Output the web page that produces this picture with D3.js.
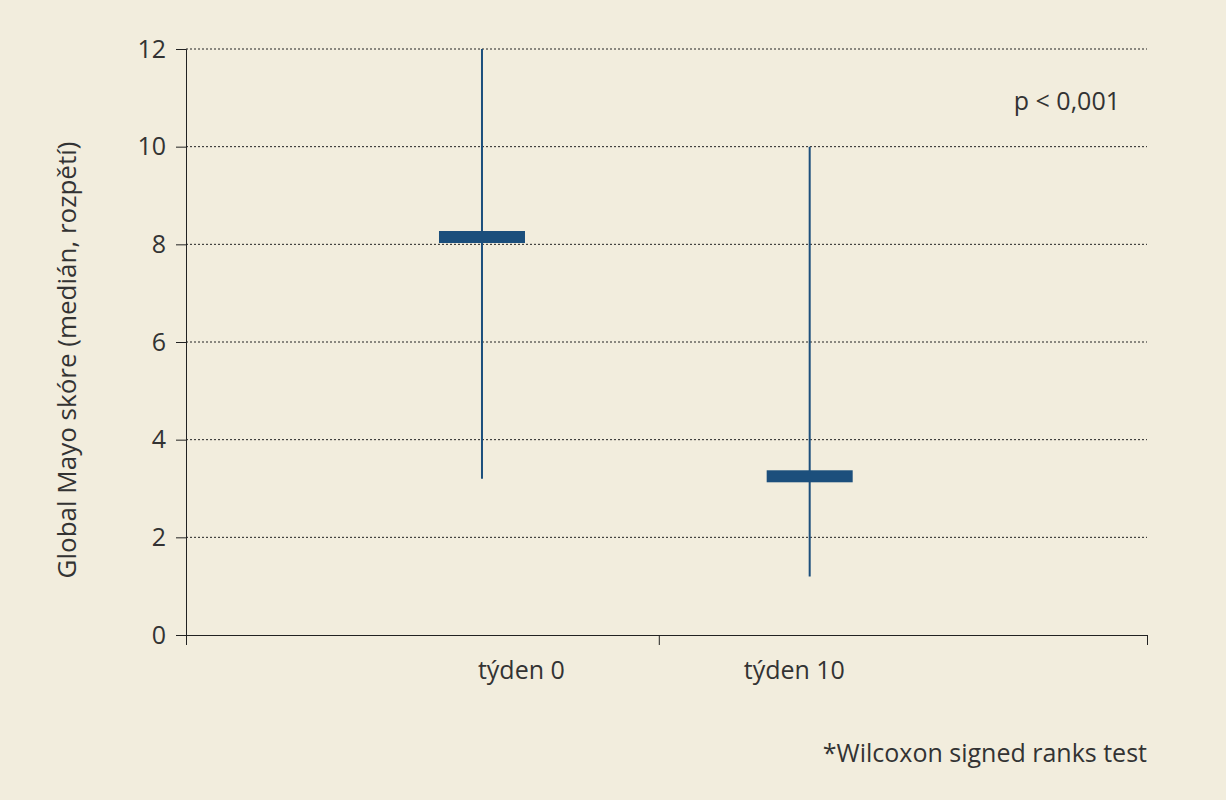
<!DOCTYPE html>
<html><head><meta charset="utf-8">
<script src="https://cdn.jsdelivr.net/npm/d3@7"></script>
<style>body{margin:0;background:#f2eddd}svg{display:block;font-family:"Open Sans",sans-serif}</style>
</head><body><svg id="c" width="1226" height="800"></svg>
<script>
const categories = ["týden 0", "týden 10"];
const medians = [8.15, 3.25];
const mins = [3.2, 1.2];
const maxs = [12, 10];
const yTicks = [0, 2, 4, 6, 8, 10, 12];

const svg = d3.select("#c");
const L = 186, R = 1147, T = 49, B = 635;
const y = d3.scaleLinear().domain([0, 12]).range([B, T]);
const x = d3.scaleLinear().domain([0, 1]).range([L, R]);
const markX = [0.308, 0.649];
const labelX = [0.349, 0.633];
const col = "#1c4f7c";

svg.append("g").selectAll("line").data(yTicks.filter(d => d > 0)).join("line")
  .attr("x1", L).attr("x2", R).attr("y1", d => y(d)).attr("y2", d => y(d))
  .attr("stroke", "#222").attr("stroke-dasharray", "2,2").attr("stroke-width", 1);

const ya = svg.append("g").attr("transform", `translate(${L},0)`)
  .call(d3.axisLeft(y).tickValues(yTicks).tickSize(10).tickPadding(10));
ya.select(".domain").attr("stroke", "#222");
ya.selectAll("text").attr("font-size", 25).attr("fill", "#333").attr("font-family", "Open Sans");

const xa = svg.append("g").attr("transform", `translate(0,${B})`)
  .call(d3.axisBottom(x).tickValues([0, 0.492, 1]).tickSize(10).tickFormat(""));
xa.select(".domain").attr("stroke", "#222");
xa.selectAll("line").attr("stroke", "#222");
ya.selectAll("line").attr("stroke", "#222");

svg.selectAll(".lab").data(categories).join("text")
  .attr("x", (d, i) => x(labelX[i])).attr("y", 679).attr("text-anchor", "middle")
  .attr("font-size", 25).attr("fill", "#333").text(d => d);

svg.selectAll(".rng").data(categories).join("line")
  .attr("x1", (d, i) => x(markX[i])).attr("x2", (d, i) => x(markX[i]))
  .attr("y1", (d, i) => y(maxs[i])).attr("y2", (d, i) => y(mins[i]))
  .attr("stroke", col).attr("stroke-width", 2);

svg.selectAll(".med").data(categories).join("rect")
  .attr("x", (d, i) => x(markX[i]) - 43).attr("width", 86)
  .attr("y", (d, i) => y(medians[i]) - 6).attr("height", 12).attr("fill", col);

svg.append("text").attr("transform", "translate(76,360) rotate(-90)")
  .attr("text-anchor", "middle").attr("font-size", 26).attr("fill", "#333")
  .text("Global Mayo skóre (medián, rozpětí)");
svg.append("text").attr("x", 1120).attr("y", 110).attr("text-anchor", "end")
  .attr("font-size", 25).attr("fill", "#333").text("p < 0,001");
svg.append("text").attr("x", 1147).attr("y", 762).attr("text-anchor", "end")
  .attr("font-size", 25).attr("fill", "#333").text("*Wilcoxon signed ranks test");
</script></body></html>
